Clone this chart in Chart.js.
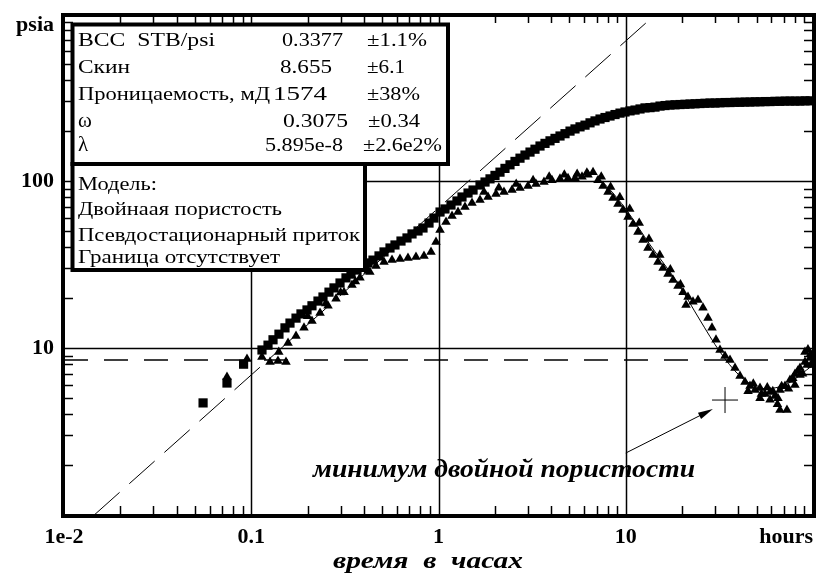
<!DOCTYPE html>
<html>
<head>
<meta charset="utf-8">
<script src="https://cdn.jsdelivr.net/npm/chart.js"></script>
<style>
  html, body { margin: 0; padding: 0; background: #fff; }
  #wrap { width: 816px; height: 574px; }
</style>
</head>
<body>
<div id="wrap"><canvas id="chart1" width="816" height="574"></canvas></div>
<script>
// pressure change (squares), hours / psia
const sqTime = [0.0553, 0.0742, 0.0910,
  0.1141, 0.1229, 0.1307, 0.1406, 0.1514, 0.1610, 0.1734, 0.1843, 0.1985, 0.2110,
  0.2272, 0.2416, 0.2601, 0.2766, 0.2979, 0.3206, 0.3409, 0.3671, 0.3904, 0.4203,
  0.4469, 0.4812, 0.5117, 0.5508, 0.5856, 0.6305, 0.6788, 0.7221, 0.7774, 0.8264,
  0.8898, 0.9462, 1.019, 1.083, 1.166, 1.255, 1.335, 1.438, 1.529,
  1.666, 1.772, 1.884, 2.003, 2.130, 2.265, 2.409, 2.562, 2.724, 2.897, 3.081, 3.276,
  3.484, 3.705, 3.940, 4.190, 4.456, 4.738, 5.039, 5.358, 5.699, 6.060, 6.445, 6.853,
  7.288, 7.750, 8.242, 8.764, 9.318, 9.910, 10.54, 11.21, 11.92, 12.67, 13.48, 14.33,
  15.24, 16.21, 17.23, 18.33, 19.49, 20.72, 22.04, 23.43, 24.92, 26.50, 28.18, 29.97,
  31.87, 33.89, 36.04, 38.32, 40.75, 43.33, 46.08, 49.00, 52.12, 55.42, 58.94, 62.67,
  66.64, 70.87, 75.36, 80.14, 85.22, 90.62, 96.37];
const sqPress = [4.69, 6.17, 8.0,
  9.73, 10.4, 11.2, 12.1, 13.2, 14.1, 15.1, 16.0, 16.9, 17.9,
  19.1, 20.2, 21.6, 22.9, 24.5, 26.3, 27.7, 29.3, 31.0, 32.3,
  33.6, 35.6, 37.6, 39.7, 41.4, 43.7, 45.6, 48.2, 50.2, 52.3,
  56.0, 60.0, 65.2, 68.0, 71.8, 75.9, 80.2, 84.7, 88.3,
  94.6, 98.6, 103, 108, 113, 119, 125, 131, 137, 143, 149, 155,
  162, 168, 174, 180, 186, 192, 199, 205, 211, 216, 223, 229,
  235, 240, 245, 250, 255, 259, 263, 266, 270, 274, 275, 277,
  281, 283, 285, 286, 287, 288, 289, 290, 291, 292, 293, 293,
  294, 295, 295, 296, 296, 297, 297, 298, 298, 299, 299, 300,
  300, 301, 301, 301, 301, 302, 302];

// derivative (triangles)
const triTime = [0.0742, 0.0949, 0.114, 0.1259, 0.1389, 0.1533, 0.1403, 0.1572, 0.1734,
  0.1913, 0.2110, 0.2330, 0.2570, 0.2836, 0.3128, 0.3451, 0.3808, 0.4203, 0.4637, 0.5117,
  0.5646, 0.6228, 0.6871, 0.7582, 0.8366, 0.9120, 0.9698, 1.019, 1.097, 1.181, 1.271,
  1.385, 1.510, 1.666, 1.838, 2.028, 2.237, 2.469, 2.724, 3.006, 3.316, 3.659, 4.037,
  4.456, 4.917, 5.358, 5.841, 6.288, 6.687, 7.110, 7.560, 8.039, 8.548, 9.089, 9.665,
  10.28, 10.93, 11.62, 12.36, 13.14, 13.98, 14.86, 15.81, 16.81, 17.88, 19.01, 20.22,
  20.98, 21.50, 22.86, 24.31, 25.85, 27.50, 28.88, 30.34, 31.87, 33.89, 36.04, 38.32,
  40.75, 43.33, 46.08, 49.00, 52.12, 55.42, 58.94, 62.67, 66.64, 70.87, 75.36, 80.14,
  85.22, 90.62, 96.37, 52.12, 58.94, 64.6, 66.6, 72.6, 90.6, 98.8, 85.2, 80.1,
  // second row of the noisy band
  0.20, 0.25, 0.30, 0.36, 0.43,
  1.75, 2.1, 2.6, 3.2, 3.9, 4.7, 5.5, 6.2,
  7.4, 8.3, 9.3, 10.5, 11.8, 13.3, 15.2, 17.3, 19.6,
  45, 48, 53, 57, 61, 65, 68, 74, 78, 83, 88, 93, 97, 99, 94];
const triDeriv = [6.70, 8.59, 8.83, 8.25, 8.36, 8.25, 9.46, 10.7, 11.8,
  13.2, 14.5, 16.2, 17.9, 19.7, 21.6, 23.8, 26.3, 28.9, 31.0, 32.7,
  33.6, 34.1, 34.6, 35.1, 35.6, 37.6, 43.1, 50.9, 56.8, 61.7, 65.2,
  69.9, 73.9, 76.9, 80.2, 83.6, 85.9, 88.3, 90.8, 93.3, 95.9, 98.6, 101,
  103, 104, 104, 106, 109, 113, 101, 93.3, 85.9, 79.1, 72.8, 67.0,
  60.9, 55.3, 49.5, 44.3, 39.7, 36.1, 32.7, 30.1, 27.7, 25.5, 23.5, 21.6,
  18.1, 20.2, 18.9, 19.4, 17.4, 15.1, 13.2, 11.2, 9.73, 8.96, 8.48, 7.59,
  6.80, 6.26, 5.92, 5.61, 5.76, 5.30, 5.45, 5.16, 5.61, 5.92, 6.43, 6.99,
  7.59, 8.25, 8.71, 5.0, 4.9, 4.6, 4.25, 4.25, 9.46, 7.91, 6.89, 6.0,
  15.5, 18.5, 21.5, 25.0, 28.5,
  86, 91, 96, 101, 106, 109, 110, 112,
  106, 92, 80, 68, 56, 45, 36, 29.5, 24,
  5.5, 6.1, 5.3, 5.8, 5.5, 5.0, 5.9, 5.7, 6.6, 7.3, 7.0, 7.9, 9.2, 8.2, 9.8];

// model derivative curve (visible part)
const modelTime = [7, 8, 10, 13.5, 18.8, 24.9, 31.9, 40.7, 52.1, 70.8, 100];
const modelDeriv = [105, 92, 68, 41.4, 24.8, 14.7, 9.46, 6.80, 5.75, 6.0, 7.9];

// unit slope line and stabilisation level
const slopeTime = [0.0145, 14.5];
const slopePress = [1, 1000];
const levelTime = [0.01, 100];
const levelValue = [8.47, 8.47];

// dual porosity minimum marker and arrow
const minPoint = [33.9, 4.88];
const arrowFrom = [10, 2.35];
const arrowTo = [29.2, 4.31];

const xTicks = [0.01, 0.1, 1, 10, 100];
const xTickLabels = ["1e-2", "0.1", "1", "10", "hours"];
const yTicks = [10, 100, 1000];
const yTickLabels = ["10", "100", "psia"];

const paramNames = ["ВСС  STB/psi", "Скин", "Проницаемость, мД", "ω", "λ"];
const paramValues = ["0.3377", "8.655", "1574", "0.3075", "5.895e-8"];
const paramErrors = ["±1.1%", "±6.1", "±38%", "±0.34", "±2.6e2%"];
const modelLines = ["Модель:", "Двойнаая пористость", "Псевдостационарный приток", "Граница отсутствует"];

function pts(xs, ys) {
  return xs.map((x, i) => ({ x: x, y: ys[i] }));
}

function fitText(ctx, text, x, y, w) {
  ctx.save();
  const m = ctx.measureText(text).width;
  ctx.translate(x, y);
  ctx.scale(w / m, 1);
  ctx.fillText(text, 0, 0);
  ctx.restore();
}

const frame = {
  id: 'frame',
  beforeDatasetsDraw(chart) {
    const ctx = chart.ctx, a = chart.chartArea;
    const xs = chart.scales.x, ys = chart.scales.y;
    ctx.save();
    ctx.strokeStyle = '#000';
    ctx.lineWidth = 1.5;
    [0.1, 1, 10].forEach(v => {
      const px = Math.round(xs.getPixelForValue(v)) + 0.5;
      ctx.beginPath(); ctx.moveTo(px, a.top); ctx.lineTo(px, a.bottom); ctx.stroke();
    });
    [10, 100].forEach(v => {
      const py = Math.round(ys.getPixelForValue(v)) + 0.5;
      ctx.beginPath(); ctx.moveTo(a.left, py); ctx.lineTo(a.right, py); ctx.stroke();
    });
    ctx.restore();
  },
  afterDatasetsDraw(chart) {
    const ctx = chart.ctx, a = chart.chartArea;
    const xs = chart.scales.x, ys = chart.scales.y;
    ctx.save();

    // arrow to the minimum
    const x0 = xs.getPixelForValue(arrowFrom[0]), y0 = ys.getPixelForValue(arrowFrom[1]);
    const x1 = xs.getPixelForValue(arrowTo[0]), y1 = ys.getPixelForValue(arrowTo[1]);
    const ang = Math.atan2(y1 - y0, x1 - x0);
    ctx.strokeStyle = '#000'; ctx.fillStyle = '#000'; ctx.lineWidth = 1;
    ctx.beginPath(); ctx.moveTo(x0, y0); ctx.lineTo(x1 - 10 * Math.cos(ang), y1 - 10 * Math.sin(ang)); ctx.stroke();
    ctx.beginPath();
    ctx.moveTo(x1, y1);
    ctx.lineTo(x1 - 15 * Math.cos(ang) + 3.5 * Math.sin(ang), y1 - 15 * Math.sin(ang) - 3.5 * Math.cos(ang));
    ctx.lineTo(x1 - 15 * Math.cos(ang) - 3.5 * Math.sin(ang), y1 - 15 * Math.sin(ang) + 3.5 * Math.cos(ang));
    ctx.closePath(); ctx.fill();

    // parameter boxes
    ctx.fillStyle = '#fff';
    ctx.fillRect(72, 24, 376, 140);
    ctx.fillRect(72, 164, 293, 106);
    ctx.lineWidth = 4; ctx.strokeStyle = '#000';
    ctx.strokeRect(72.5, 24.5, 375.5, 139.5);
    ctx.strokeRect(72.5, 164, 292.5, 106);

    ctx.fillStyle = '#000';
    ctx.textAlign = 'left'; ctx.textBaseline = 'alphabetic';
    ctx.font = '18px "Liberation Serif"';
    const rowY = [46, 73, 100, 127, 151];
    const nameW = [137, 52, 192, 12, 12];
    const valX = [282, 280, 273, 283, 265];
    const valW = [61, 52, 54, 65, 78];
    const errX = [367, 367, 367, 368, 363];
    const errW = [60, 38, 53, 52, 79];
    paramNames.forEach((t, i) => {
      if (i < 3) {
        fitText(ctx, t, 78, rowY[i], nameW[i]);
      } else {
        ctx.font = '21px "Liberation Serif"';
        ctx.fillText(t, 78, rowY[i]);
        ctx.font = '18px "Liberation Serif"';
      }
      fitText(ctx, paramValues[i], valX[i], rowY[i], valW[i]);
      fitText(ctx, paramErrors[i], errX[i], rowY[i], errW[i]);
    });
    const modY = [190, 215, 241, 263];
    const modW = [79, 204, 282, 202];
    modelLines.forEach((t, i) => fitText(ctx, t, 78, modY[i], modW[i]));

    // frame
    ctx.lineWidth = 4;
    ctx.strokeRect(a.left - 1, a.top + 1, a.right - a.left + 2, a.bottom - a.top);

    // inward minor ticks
    ctx.lineWidth = 1.5;
    for (let d = -2; d < 2; d++) {
      for (let k = 2; k <= 9; k++) {
        const px = Math.round(xs.getPixelForValue(k * Math.pow(10, d))) + 0.5;
        ctx.beginPath(); ctx.moveTo(px, a.bottom); ctx.lineTo(px, a.bottom - 9); ctx.stroke();
        ctx.beginPath(); ctx.moveTo(px, a.top); ctx.lineTo(px, a.top + 9); ctx.stroke();
      }
    }
    for (let d = 0; d < 3; d++) {
      for (let k = 2; k <= 9; k++) {
        const py = Math.round(ys.getPixelForValue(k * Math.pow(10, d))) + 0.5;
        ctx.beginPath(); ctx.moveTo(a.left, py); ctx.lineTo(a.left + 9, py); ctx.stroke();
        ctx.beginPath(); ctx.moveTo(a.right, py); ctx.lineTo(a.right - 9, py); ctx.stroke();
      }
    }

    // tick labels
    ctx.font = 'bold 22px "Liberation Serif"';
    xTicks.forEach((v, i) => {
      const px = xs.getPixelForValue(v);
      if (i === xTicks.length - 1) { ctx.textAlign = 'right'; ctx.fillText(xTickLabels[i], a.right, 543); }
      else { ctx.textAlign = 'center'; ctx.fillText(xTickLabels[i], px, 543); }
    });
    ctx.textAlign = 'right';
    yTicks.forEach((v, i) => {
      const py = ys.getPixelForValue(v);
      const base = i === yTicks.length - 1 ? 31 : py + 6;
      ctx.fillText(yTickLabels[i], 54, base);
    });

    // captions
    ctx.textAlign = 'left';
    ctx.font = 'italic bold 24px "Liberation Serif"';
    fitText(ctx, "время  в  часах", 333, 568, 190);
    ctx.font = 'italic bold 25px "Liberation Serif"';
    fitText(ctx, "минимум двойной пористости", 313, 477, 382);
    ctx.restore();
  }
};

new Chart(document.getElementById("chart1"), {
  type: 'scatter',
  data: {
    datasets: [{
      label: 'Pressure',
      data: pts(sqTime, sqPress),
      pointStyle: 'rect',
      pointRadius: 6.5,
      backgroundColor: '#000',
      borderColor: '#000',
      borderWidth: 0
    },
    {
      label: 'Derivative',
      data: pts(triTime, triDeriv),
      pointStyle: 'triangle',
      pointRadius: 5.5,
      backgroundColor: '#000',
      borderColor: '#000',
      borderWidth: 0
    },
    {
      label: 'Model',
      data: pts(modelTime, modelDeriv),
      showLine: true,
      pointRadius: 0,
      borderColor: '#000',
      borderWidth: 1,
      tension: 0.3
    },
    {
      label: 'Unit slope',
      data: pts(slopeTime, slopePress),
      showLine: true,
      pointRadius: 0,
      borderColor: '#000',
      borderWidth: 1,
      borderDash: [34, 13]
    },
    {
      label: 'Level',
      data: pts(levelTime, levelValue),
      showLine: true,
      pointRadius: 0,
      borderColor: '#000',
      borderWidth: 1.5,
      borderDash: [24, 16]
    },
    {
      label: 'Minimum',
      data: [{ x: minPoint[0], y: minPoint[1] }],
      pointStyle: 'cross',
      pointRadius: 13,
      borderColor: '#000',
      borderWidth: 1
    }]
  },
  options: {
    responsive: false,
    animation: false,
    devicePixelRatio: 1,
    layout: { autoPadding: false, padding: { left: 64, right: 3, top: 14, bottom: 59 } },
    plugins: { legend: { display: false }, tooltip: { enabled: false } },
    scales: {
      x: { type: 'logarithmic', min: 0.01, max: 100, display: false },
      y: { type: 'logarithmic', min: 1, max: 1000, display: false }
    }
  },
  plugins: [frame]
});
</script>
</body>
</html>
